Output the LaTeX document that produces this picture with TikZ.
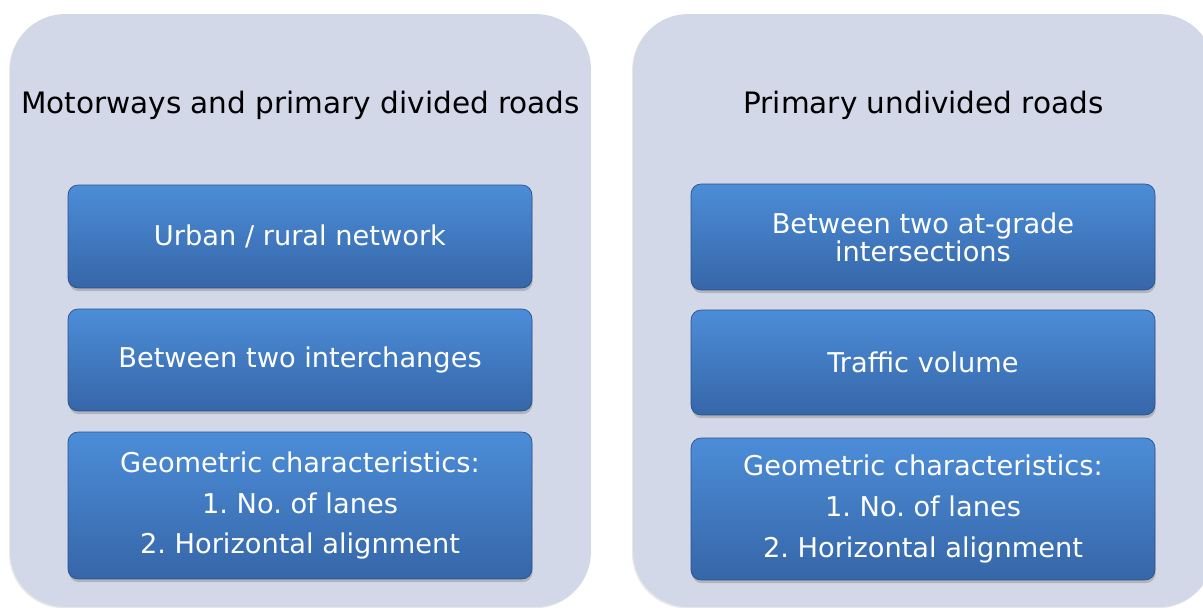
\documentclass[tikz,border=0pt]{standalone}
\usepackage{fontspec}
\setmainfont{DejaVu Sans}
\usetikzlibrary{shadows,positioning}
\frenchspacing

\definecolor{panelgray}{RGB}{210,216,231}
\definecolor{boxtop}{RGB}{76,141,216}
\definecolor{boxbottom}{RGB}{54,102,168}
\definecolor{boxedge}{RGB}{40,82,140}

\tikzset{
  panel/.style={fill=panelgray, rounded corners=1.1cm, inner sep=0pt,
    minimum width=11.62cm, minimum height=11.86cm,
    drop shadow={shadow xshift=-0.6pt, shadow yshift=-0.8pt, opacity=0.18}},
  paneltitle/.style={text=black, font=\fontsize{16.8}{18}\selectfont},
  bluebox/.style={draw=boxedge, line width=0.4pt, top color=boxtop, bottom color=boxbottom,
    rounded corners=0.2cm, inner sep=0pt, minimum width=9.28cm,
    text=white, align=center, font=\fontsize{15.5}{16}\selectfont,
    drop shadow={shadow xshift=0.4pt, shadow yshift=-1.8pt, opacity=0.4}}
}

\begin{document}
\begin{tikzpicture}[x=0.02cm, y=0.02cm]
  \useasboundingbox (0,0) rectangle (1203,-608);
  \clip (0,0) rectangle (1203,-608);
  % Left panel
  \node[panel] (leftpanel) at (300.5,-310.5) {};
  \node[paneltitle] (lefttitle) at (300.5,-105.5) {Motorways and primary divided roads};
  \node[bluebox, minimum height=2.06cm] (urban) at (300,-236.5) {Urban / rural network};
  \node[bluebox, minimum height=2.04cm] (interchanges) at (300,-360) {Between two interchanges};
  \node[bluebox, minimum height=2.94cm] (leftgeom) at (300,-505.5)
    {Geometric characteristics:\\[7.2pt] 1. No. of lanes\\[7.2pt] 2. Horizontal alignment};
  % Right panel
  \node[panel] (rightpanel) at (923.5,-310.5) {};
  \node[paneltitle] (righttitle) at (923.5,-105.5) {Primary undivided roads};
  \node[bluebox, minimum height=2.12cm] (atgrade) at (923,-237) {Between two at-grade\\intersections};
  \node[bluebox, minimum height=2.10cm] (volume) at (923,-362.5) {Traffic volume};
  \node[bluebox, minimum height=2.84cm] (rightgeom) at (923,-509)
    {Geometric characteristics:\\[7.2pt] 1. No. of lanes\\[7.2pt] 2. Horizontal alignment};
\end{tikzpicture}
\end{document}
